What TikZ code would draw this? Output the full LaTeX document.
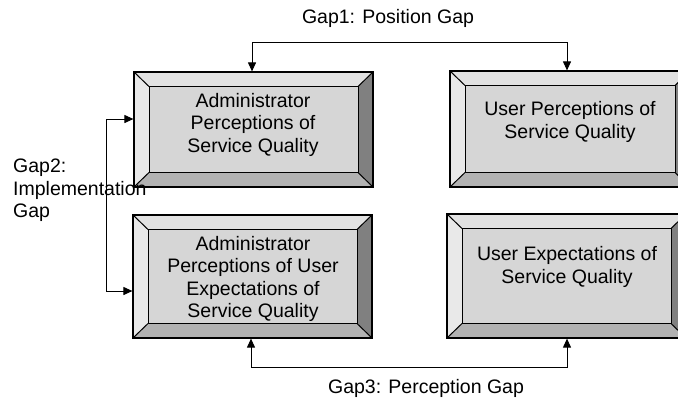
\documentclass[tikz,border=0pt]{standalone}
\usepackage{fontspec}
\setmainfont{Liberation Sans}
\usetikzlibrary{calc,arrows.meta}

\definecolor{facegray}{HTML}{D6D6D6}
\definecolor{topgray}{HTML}{E2E2E2}
\definecolor{leftgray}{HTML}{E9E9E9}
\definecolor{bottomgray}{HTML}{B2B2B2}
\definecolor{rightgray}{HTML}{808080}

\tikzset{
  bevelbox/.style={
    draw=black, line width=1.2bp, inner sep=0pt, fill=facegray,
    path picture={
      \path (path picture bounding box.north west) coordinate (pNW)
            (path picture bounding box.north east) coordinate (pNE)
            (path picture bounding box.south west) coordinate (pSW)
            (path picture bounding box.south east) coordinate (pSE);
      \coordinate (iNW) at ($(pNW)+(15bp,-14.5bp)$);
      \coordinate (iNE) at ($(pNE)+(-15bp,-14.5bp)$);
      \coordinate (iSW) at ($(pSW)+(15bp,14.5bp)$);
      \coordinate (iSE) at ($(pSE)+(-15bp,14.5bp)$);
      \fill[topgray] (pNW) -- (pNE) -- (iNE) -- (iNW) -- cycle;
      \fill[leftgray] (pNW) -- (iNW) -- (iSW) -- (pSW) -- cycle;
      \fill[bottomgray] (pSW) -- (iSW) -- (iSE) -- (pSE) -- cycle;
      \fill[rightgray] (pNE) -- (pSE) -- (iSE) -- (iNE) -- cycle;
      \draw[line width=1bp] (iNW) rectangle (iSE);
      \draw[line width=1bp] (pNW) -- (iNW) (pNE) -- (iNE)
                            (pSW) -- (iSW) (pSE) -- (iSE);
    }},
  boxtext/.style={align=center, inner sep=0pt,
    font=\fontsize{19.5bp}{22.5bp}\selectfont},
  gaplabel/.style={inner sep=0pt,
    font=\fontsize{19.5bp}{22.5bp}\selectfont},
  gaplink/.style={draw=black, line width=1bp,
    {Triangle[length=9bp,width=8bp]}-{Triangle[length=9bp,width=8bp]}}
}

\begin{document}
\begin{tikzpicture}[x=1bp, y=-1bp]
  \useasboundingbox (0,0) rectangle (678,403);
  \clip (0,0) rectangle (678,403);

  % the four bevelled boxes
  \node[bevelbox, minimum width=239bp, minimum height=115bp] (tl) at (253.5,129.5) {};
  \node[bevelbox, minimum width=240bp, minimum height=116bp] (tr) at (570,129) {};
  \node[bevelbox, minimum width=239bp, minimum height=123bp] (bl) at (252.5,276.5) {};
  \node[bevelbox, minimum width=239bp, minimum height=124bp] (br) at (566.5,276) {};

  % box captions
  \node[boxtext] (tltext) at (253,124.5) {Administrator\\Perceptions of\\Service Quality};
  \node[boxtext] (trtext) at (570,122) {User Perceptions of\\Service Quality};
  \node[boxtext] (bltext) at (253,279) {Administrator\\Perceptions of User\\Expectations of\\Service Quality};
  \node[boxtext] (brtext) at (567,267) {User Expectations of\\Service Quality};

  % gap connectors
  \draw[gaplink] ([xshift=-1.5bp]tl.north) -- ++(0,-29) -| ([xshift=-3bp]tr.north);
  \draw[gaplink] ([yshift=10.5bp]tl.west) -- ++(-27,0) |- ([yshift=-14.5bp]bl.west);
  \draw[gaplink] ([xshift=-1.5bp]bl.south) -- ++(0,29) -| ([xshift=0.5bp]br.south);

  % gap labels
  \node[gaplabel] (gap1) at (388,18) {Gap1: Position Gap};
  \node[gaplabel, align=left, anchor=west] (gap2) at (13,190.5) {Gap2:\\Implementation\\Gap};
  \node[gaplabel] (gap3) at (426,388) {Gap3: Perception Gap};
\end{tikzpicture}
\end{document}
